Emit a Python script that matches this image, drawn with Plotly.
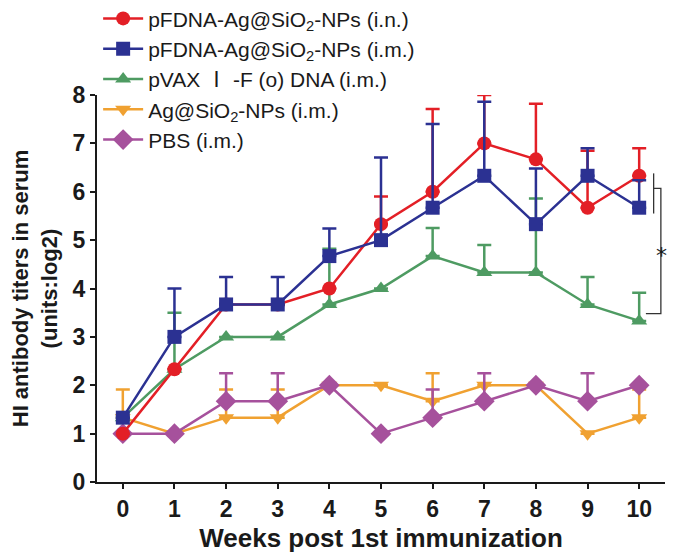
import plotly.graph_objects as go

weeks = [0, 1, 2, 3, 4, 5, 6, 7, 8, 9, 10]

names = [
    "pFDNA-Ag@SiO<sub>2</sub>-NPs (i.n.)",
    "pFDNA-Ag@SiO<sub>2</sub>-NPs (i.m.)",
    "pVAX <span style=\"font-family:'Noto Sans CJK SC'\">\u2160</span> -F (o) DNA (i.m.)",
    "Ag@SiO<sub>2</sub>-NPs (i.m.)",
    "PBS (i.m.)",
]

red_vals = [1.0, 2.33, 3.67, 3.67, 4.0, 5.33, 6.0, 7.0, 6.67, 5.67, 6.33]
red_err = [0, 0, 0, 0, 0, 0.57, 1.71, 1.0, 1.15, 1.18, 0.57]

blue_vals = [1.33, 3.0, 3.67, 3.67, 4.67, 5.0, 5.67, 6.33, 5.33, 6.33, 5.67]
blue_err = [0, 1.0, 0.57, 0.57, 0.57, 1.71, 1.73, 1.53, 1.15, 0.57, 0.57]

green_vals = [1.33, 2.33, 3.0, 3.0, 3.67, 4.0, 4.67, 4.33, 4.33, 3.67, 3.33]
green_err = [0, 1.17, 0, 0, 1.15, 0, 0.58, 0.57, 1.53, 0.57, 0.58]

orange_vals = [1.33, 1.0, 1.33, 1.33, 2.0, 2.0, 1.67, 2.0, 2.0, 1.0, 1.33]
orange_err = [0.58, 0, 0.58, 0.58, 0, 0, 0.58, 0, 0, 0, 0.58]

purple_vals = [1.0, 1.0, 1.67, 1.67, 2.0, 1.0, 1.33, 1.67, 2.0, 1.67, 2.0]
purple_err = [0, 0, 0.58, 0.58, 0, 0, 0.58, 0.58, 0, 0.58, 0]

x_range = [-0.5, 10.5]

# significance bracket (data coords)
sig_short_x = 10.28
sig_short_y = [5.55, 6.38]
sig_bracket_x = [10.28, 10.42, 10.42, 10.13]
sig_bracket_y = [6.07, 6.07, 3.48, 3.48]
sig_star = (10.57, 4.68)

colors = ["#e31f26", "#2b3192", "#4e9b62", "#f0a131", "#a6519c"]
symbols = ["circle", "square", "triangle-up", "triangle-down", "diamond"]
sizes = [14, 14, 14, 14, 16]
series = [
    (red_vals, red_err),
    (blue_vals, blue_err),
    (green_vals, green_err),
    (orange_vals, orange_err),
    (purple_vals, purple_err),
]

FONT = "Liberation Sans, Arial, sans-serif"

fig = go.Figure()
draw_order = [3, 4, 2, 0, 1]
for i in draw_order:
    vals, err = series[i]
    fig.add_trace(go.Scatter(
        x=weeks, y=vals, name=names[i], mode="lines+markers",
        line=dict(color=colors[i], width=2.5),
        marker=dict(symbol=symbols[i], size=sizes[i], color=colors[i], line=dict(width=0)),
        error_y=dict(type="data", array=err, arrayminus=[0] * len(err), symmetric=False,
                     color=colors[i], thickness=2.5, width=7),
        legendrank=i + 1, legendgroup="g%d" % i,
    ))

fig.add_trace(go.Scatter(x=[sig_short_x, sig_short_x], y=sig_short_y, mode="lines",
                         line=dict(color="#333333", width=1.3), showlegend=False, hoverinfo="skip"))
fig.add_trace(go.Scatter(x=sig_bracket_x, y=sig_bracket_y, mode="lines",
                         line=dict(color="#333333", width=1.3), showlegend=False, hoverinfo="skip"))
# star sits just outside the x range, so place it in paper units converted from data units
star_paper_x = (sig_star[0] - x_range[0]) / (x_range[1] - x_range[0])
fig.add_annotation(x=star_paper_x, xref="paper", y=sig_star[1], yref="y", text="*",
                   showarrow=False, font=dict(size=22, color="#1a1a1a", family="DejaVu Sans, sans-serif"))

axis_font = dict(family=FONT, size=23, color="#1a1a1a", weight="bold")
fig.update_layout(
    width=667, height=550,
    margin=dict(l=89, r=10, t=87, b=76, autoexpand=False),
    paper_bgcolor="white", plot_bgcolor="white",
    font=dict(family=FONT, color="#1a1a1a"),
    showlegend=True,
    legend=dict(x=0.002, y=1.25, xanchor="left", yanchor="top",
                font=dict(size=21, color="#1a1a1a", family=FONT), bgcolor="rgba(0,0,0,0)",
                traceorder="grouped", tracegroupgap=0, itemwidth=40),
    xaxis=dict(range=x_range, tickmode="array", tickvals=weeks, automargin=False,
               ticks="outside", ticklen=5, tickwidth=2, tickcolor="#1a1a1a",
               showline=True, linewidth=2, linecolor="#1a1a1a",
               showgrid=False, zeroline=False, tickfont=axis_font,
               title=dict(text="Weeks post 1st immunization",
                          font=dict(family=FONT, size=26, color="#1a1a1a", weight="bold"), standoff=8)),
    yaxis=dict(range=[0, 8], dtick=1, ticks="outside", ticklen=5, tickwidth=2, tickcolor="#1a1a1a",
               showline=True, linewidth=2, linecolor="#1a1a1a", automargin=False,
               showgrid=False, zeroline=False, tickfont=axis_font,
               title=dict(text="HI antibody titers in serum<br>(units:log2)",
                          font=dict(family=FONT, size=22, color="#1a1a1a", weight="bold"), standoff=14)),
)

fig.write_html("out.html")
